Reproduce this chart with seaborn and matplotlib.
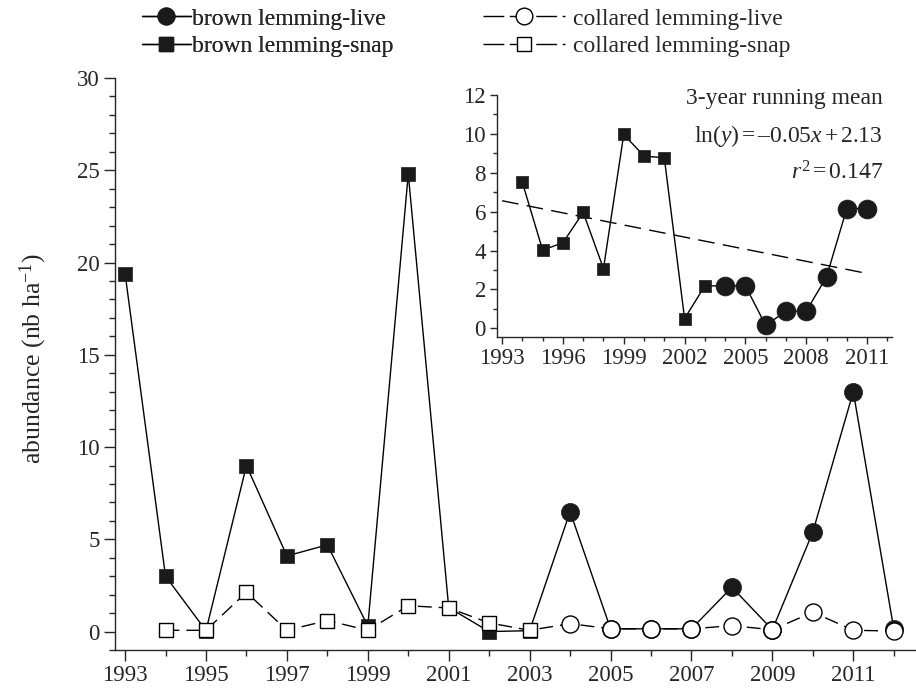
import numpy as np
import pandas as pd
import matplotlib
matplotlib.use('Agg')
import matplotlib.pyplot as plt
from matplotlib.lines import Line2D
from matplotlib.ticker import MultipleLocator
import seaborn as sns

# brown lemming: snap-trap years then live-trap years
brown_snap_years = [1993, 1994, 1995, 1996, 1997, 1998, 1999, 2000, 2001, 2002, 2003]
brown_snap = [19.4, 3.0, 0.05, 9.0, 4.1, 4.7, 0.3, 24.8, 1.3, 0.0, 0.05]
brown_live_years = [2004, 2005, 2006, 2007, 2008, 2009, 2010, 2011, 2012]
brown_live = [6.5, 0.15, 0.15, 0.15, 2.4, 0.1, 5.4, 13.0, 0.15]

# collared lemming
coll_snap_years = [1994, 1995, 1996, 1997, 1998, 1999, 2000, 2001, 2002, 2003]
coll_snap = [0.07, 0.07, 2.13, 0.07, 0.6, 0.07, 1.4, 1.28, 0.47, 0.07]
coll_live_years = [2004, 2005, 2006, 2007, 2008, 2009, 2010, 2011, 2012]
coll_live = [0.43, 0.15, 0.15, 0.15, 0.32, 0.1, 1.05, 0.07, 0.03]

# inset: 3-year running mean of brown lemming
rm_snap_years = [1994, 1995, 1996, 1997, 1998, 1999, 2000, 2001, 2002, 2003]
rm_snap = [7.5, 4.02, 4.4, 5.96, 3.07, 9.97, 8.86, 8.77, 0.5, 2.18]
rm_live_years = [2004, 2005, 2006, 2007, 2008, 2009, 2010, 2011]
rm_live = [2.18, 2.18, 0.15, 0.88, 0.88, 2.64, 6.16, 6.16]
trend_years = [1993, 2011]
trend_vals = [6.56, 2.82]

main_xticks = [1993, 1995, 1997, 1999, 2001, 2003, 2005, 2007, 2009, 2011]
inset_xticks = [1993, 1996, 1999, 2002, 2005, 2008, 2011]

sns.set_style('ticks')
plt.rcParams['font.family'] = ['Liberation Serif', 'DejaVu Serif']
plt.rcParams['mathtext.fontset'] = 'custom'
plt.rcParams['mathtext.rm'] = 'Liberation Serif'
plt.rcParams['mathtext.it'] = 'Liberation Serif:italic'
plt.rcParams['axes.linewidth'] = 1.0

brown_years = brown_snap_years + brown_live_years
brown_all = brown_snap + brown_live
coll_years = coll_snap_years + coll_live_years
coll_all = coll_snap + coll_live
dash = (0, (10, 5))
TICK_FS = 16.5
TEXT_FS = 17

fig = plt.figure(figsize=(9.16, 6.93), dpi=100)
ax = fig.add_axes([0.1255, 0.062, 0.8745, 0.8254])

# brown lemming
sns.lineplot(x=brown_years, y=brown_all, color='black', lw=1, ax=ax,
             estimator=None, sort=False, zorder=2)
sns.scatterplot(x=brown_snap_years, y=brown_snap, marker='s', s=110,
                color='#1a1a1a', edgecolor='#1a1a1a', linewidth=0.5, ax=ax, zorder=3)
sns.scatterplot(x=brown_live_years, y=brown_live, marker='o', s=170,
                color='#1a1a1a', edgecolor='#1a1a1a', linewidth=0.5, ax=ax, zorder=3)

# collared lemming (drawn on top)
sns.lineplot(x=coll_years, y=coll_all, color='black', lw=1, linestyle=dash,
             ax=ax, estimator=None, sort=False, zorder=4)
sns.scatterplot(x=coll_snap_years, y=coll_snap, marker='s', s=100,
                color='white', edgecolor='black', linewidth=1, ax=ax, zorder=5)
sns.scatterplot(x=coll_live_years, y=coll_live, marker='o', s=150,
                color='white', edgecolor='black', linewidth=1, ax=ax, zorder=5)

ax.set_xlim(1992.75, 2012.55)
ax.set_ylim(-1, 30)
ax.set_xticks(main_xticks)
ax.xaxis.set_minor_locator(MultipleLocator(1))
ax.yaxis.set_major_locator(MultipleLocator(5))
ax.yaxis.set_minor_locator(MultipleLocator(1))
ax.tick_params(which='major', length=8, width=1, labelsize=TICK_FS, direction='out', pad=3)
ax.tick_params(which='minor', length=4.5, width=1, direction='out')
ax.set_ylabel('abundance (nb ha$^{-1}$)', fontsize=18.5)
ax.yaxis.set_label_coords(-0.082, 0.51)
sns.despine(ax=ax)

# inset
axi = fig.add_axes([0.5426, 0.5137, 0.4312, 0.3492])
sns.lineplot(x=rm_snap_years + rm_live_years, y=rm_snap + rm_live, color='black',
             lw=1, ax=axi, estimator=None, sort=False, zorder=2)
sns.scatterplot(x=rm_snap_years, y=rm_snap, marker='s', s=85, color='#1a1a1a',
                edgecolor='#1a1a1a', linewidth=0.5, ax=axi, zorder=3)
sns.scatterplot(x=rm_live_years, y=rm_live, marker='o', s=185, color='#1a1a1a',
                edgecolor='#1a1a1a', linewidth=0.5, ax=axi, zorder=3)
sns.lineplot(x=trend_years, y=trend_vals, color='black', lw=1,
             linestyle=(0, (12, 6)), ax=axi, zorder=1)
axi.set_xlim(1992.75, 2012.23)
axi.set_ylim(-0.45, 12)
axi.set_xticks(inset_xticks)
axi.xaxis.set_minor_locator(MultipleLocator(1))
axi.yaxis.set_major_locator(MultipleLocator(2))
axi.yaxis.set_minor_locator(MultipleLocator(1))
axi.tick_params(which='major', length=5, width=1, labelsize=TICK_FS, direction='out', pad=3)
axi.tick_params(which='minor', length=3, width=1, direction='out')
axi.patch.set_alpha(0)
sns.despine(ax=axi)

axi.text(0.977, 0.985, '3-year running mean', transform=axi.transAxes,
         ha='right', va='center', fontsize=TEXT_FS)
axi.text(0.977, 0.832, r'ln($y$)$\,$=$\,$–0.05$x\,$+$\,$2.13', transform=axi.transAxes,
         ha='right', va='center', fontsize=TEXT_FS)
axi.text(0.977, 0.678, r'$r^2\,$=$\,$0.147', transform=axi.transAxes,
         ha='right', va='center', fontsize=TEXT_FS)

# legends (two columns with different handle styles)
h_bl = Line2D([], [], color='black', lw=1, marker='o', markersize=12,
              markerfacecolor='#1a1a1a', markeredgecolor='#1a1a1a')
h_bs = Line2D([], [], color='black', lw=1, marker='s', markersize=10.5,
              markerfacecolor='#1a1a1a', markeredgecolor='#1a1a1a')
h_cl = Line2D([], [], color='black', lw=1, linestyle=(0, (15, 4)), marker='o',
              markersize=12, markerfacecolor='white', markeredgecolor='black')
h_cs = Line2D([], [], color='black', lw=1, linestyle=(0, (15, 4)), marker='s',
              markersize=10, markerfacecolor='white', markeredgecolor='black')

leg1 = fig.legend([h_bl, h_bs], ['brown lemming-live', 'brown lemming-snap'],
                  loc='center left', bbox_to_anchor=(0.1547, 0.953), frameon=False,
                  fontsize=TEXT_FS, handlelength=2.1, handletextpad=0.05,
                  labelspacing=0.25, borderpad=0, borderaxespad=0)
fig.add_artist(leg1)
fig.legend([h_cl, h_cs], ['collared lemming-live', 'collared lemming-snap'],
           loc='center left', bbox_to_anchor=(0.527, 0.953), frameon=False,
           fontsize=TEXT_FS, handlelength=3.5, handletextpad=0.34,
           labelspacing=0.25, borderpad=0, borderaxespad=0)

fig.savefig('out.png', dpi=100)
